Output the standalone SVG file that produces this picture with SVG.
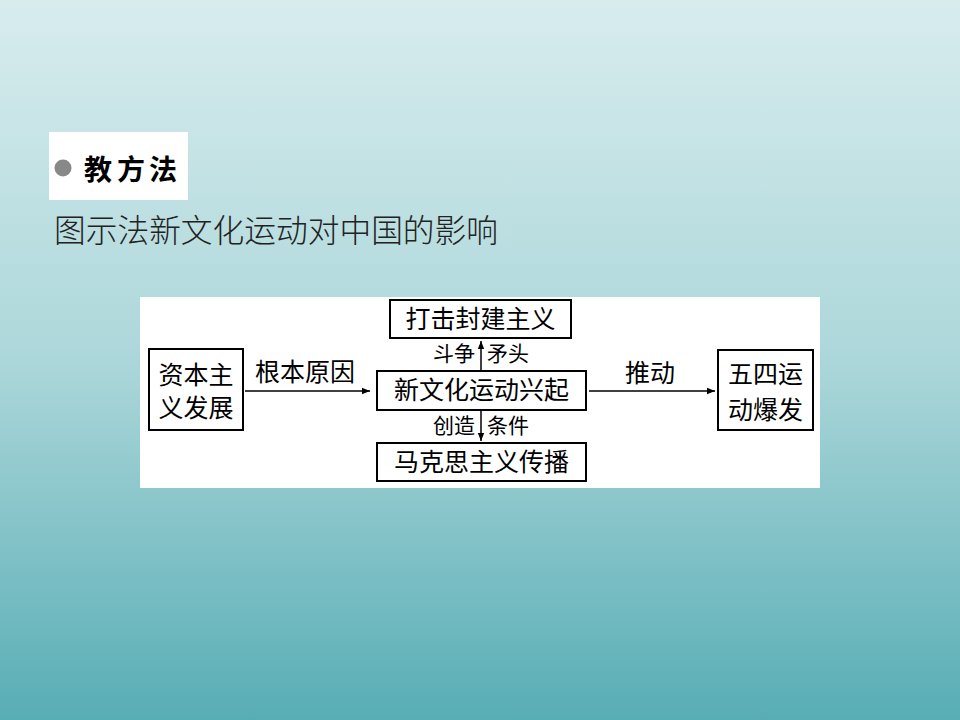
<svg xmlns="http://www.w3.org/2000/svg" width="960" height="720" viewBox="0 0 960 720">
<defs>
<linearGradient id="bg" x1="0" y1="0" x2="0" y2="1">
<stop offset="0" stop-color="#d8ecee"/>
<stop offset="0.5" stop-color="#acd7da"/>
<stop offset="1" stop-color="#58adb5"/>
</linearGradient>
<marker id="ah" viewBox="0 0 10 10" refX="10" refY="5" markerWidth="8" markerHeight="8" markerUnits="userSpaceOnUse" orient="auto">
<path d="M0,1 L10,5 L0,9 Z" fill="#000"/>
</marker>
</defs>
<style>
.t{font-family:"Liberation Serif","Noto Sans CJK SC",serif;fill:#000;}
.box{fill:#fff;stroke:#000;stroke-width:2;}
.ln{stroke:#000;stroke-width:1.5;fill:none;}
.bt{font-size:25px;text-anchor:middle;dominant-baseline:central;}
.lb{font-size:21px;dominant-baseline:central;}
.hd{font-family:"Noto Sans CJK SC",sans-serif;font-size:28px;font-weight:bold;dominant-baseline:central;fill:#000;}
</style>
<rect x="0" y="0" width="960" height="720" fill="url(#bg)"/>
<g id="header">
<rect x="49" y="132" width="139" height="68" fill="#fff"/>
<circle cx="63" cy="168" r="8.5" fill="#888"/>
<text class="hd" x="84" y="168">教</text>
<text class="hd" x="117" y="168">方</text>
<text class="hd" x="149" y="168">法</text>
</g>
<text id="subtitle" x="54" y="228" font-size="32" textLength="444" lengthAdjust="spacingAndGlyphs" dominant-baseline="central" fill="#222" style="font-family:'Noto Sans CJK SC',sans-serif;font-weight:300">图示法新文化运动对中国的影响</text>
<rect id="panel" x="140" y="297" width="680" height="191" fill="#fff"/>
<g id="n1">
<rect class="box" x="149" y="349" width="94" height="81"/>
<text class="t bt" x="196" y="375">资本主</text>
<text class="t bt" x="196" y="408">义发展</text>
</g>
<g id="n2">
<rect class="box" x="390" y="300" width="181" height="38"/>
<text class="t bt" x="480.5" y="319">打击封建主义</text>
</g>
<g id="n3">
<rect class="box" x="377" y="371" width="209" height="39"/>
<text class="t bt" x="481.5" y="390.5">新文化运动兴起</text>
</g>
<g id="n4">
<rect class="box" x="377" y="443" width="209" height="38"/>
<text class="t bt" x="481.5" y="462">马克思主义传播</text>
</g>
<g id="n5">
<rect class="box" x="718" y="350" width="95" height="80"/>
<text class="t bt" x="765.5" y="374">五四运</text>
<text class="t bt" x="765.5" y="410">动爆发</text>
</g>
<g id="connectors">
<line class="ln" x1="245" y1="391" x2="370" y2="391" marker-end="url(#ah)"/>
<text class="t bt" x="305" y="372">根本原因</text>
<line class="ln" x1="481" y1="370" x2="481" y2="341" marker-end="url(#ah)" stroke-width="2"/>
<text class="t lb" x="475" y="354" text-anchor="end">斗争</text>
<text class="t lb" x="487" y="354">矛头</text>
<line class="ln" x1="481" y1="411" x2="481" y2="441" marker-end="url(#ah)" stroke-width="2"/>
<text class="t lb" x="475" y="426" text-anchor="end">创造</text>
<text class="t lb" x="487" y="426">条件</text>
<line class="ln" x1="589" y1="391" x2="715" y2="391" marker-end="url(#ah)"/>
<text class="t bt" x="650" y="373">推动</text>
</g>
</svg>
